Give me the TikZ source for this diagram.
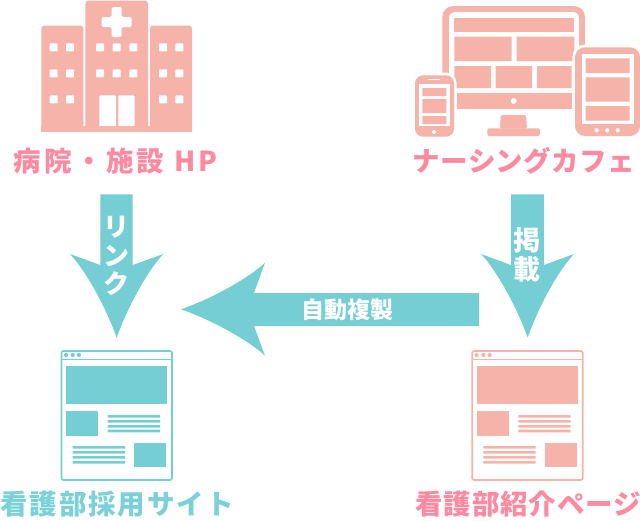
\documentclass[tikz,border=0pt]{standalone}
\usepackage{fontspec}
\newfontfamily\cjkwide{Noto Sans CJK JP}[LetterSpace=12.5]
\newfontfamily\cjkmid{Noto Sans CJK JP}[LetterSpace=1.5]
\newfontfamily\cjkintro{Noto Sans CJK JP}[LetterSpace=3]
\newfontfamily\cjktight{Noto Sans CJK JP}[LetterSpace=7]
\newfontfamily\cjkwhite{Noto Sans CJK JP}
\definecolor{pk}{HTML}{F5B3A9}
\definecolor{tl}{HTML}{74CED4}
\definecolor{lp}{HTML}{FD8AA0}
\definecolor{lt}{HTML}{7AD1D7}
\tikzset{
  px/.style={x=1pt,y=-1pt},
  lbl/.style={inner sep=0pt,anchor=center,text=#1},
  atxt/.style={font=\cjkwhite\bfseries\fontsize{#1}{#1}\selectfont,text=white,inner sep=0pt,anchor=center},
  halo/.style={preaction={draw=white,line width=5.4pt},fill=pk}
}
\newcommand{\pageicon}[1]{%
  \draw[draw=#1,line width=1.7pt,rounded corners=2pt,fill=white] (61.5,351) rectangle (172,480);
  \draw[draw=#1,line width=1.5pt] (61.5,359.3) -- (172,359.3);
  \fill[#1] (66,355) circle (2.1) (72.7,355) circle (2.1) (79,355) circle (2.1);
  \fill[#1] (66,366) rectangle (167.3,404);
  \fill[#1] (66,411.3) rectangle (98,436);
  \fill[#1] (107.7,415) rectangle (160,417.7) (107.7,420) rectangle (160,422.7) (107.7,425) rectangle (160,427.7) (107.7,429.7) rectangle (160,432.4);
  \fill[#1] (72.7,446) rectangle (125,448.7) (72.7,451) rectangle (125,453.7) (72.7,456) rectangle (125,458.7) (72.7,461) rectangle (125,463.7);
  \fill[#1] (134.3,442.7) rectangle (166.3,467.3);
}
\begin{document}
\begin{tikzpicture}[px]
\useasboundingbox (0,0) rectangle (640,520);
% hospital
\fill[pk,rounded corners=3pt] (41.3,140) -- (41.3,25.5) -- (83.3,25.5) -- (83.3,140) -- cycle;
\fill[pk,rounded corners=3pt] (150,140) -- (150,25.5) -- (192,25.5) -- (192,140) -- cycle;
\fill[pk,rounded corners=3pt] (85.3,140) -- (85.3,0.7) -- (148,0.7) -- (148,140) -- cycle;
\fill[pk] (41.3,126) rectangle (192,131.7);
\fill[white] (30,131.7) rectangle (200,142);
\fill[white,rounded corners=1.5pt] (111.7,7) -- (121.7,7) -- (121.7,17) -- (131.7,17) -- (131.7,27) -- (121.7,27) -- (121.7,37) -- (111.7,37) -- (111.7,27) -- (101.7,27) -- (101.7,17) -- (111.7,17) -- cycle;
\foreach \y in {43.4,69.4,95.4}{
  \foreach \x in {49.7,66,159,175.3}{\fill[white,rounded corners=0.8pt] (\x,\y) rectangle ++(8,8);}
}
\foreach \y in {43.4,69.4}{
  \foreach \x in {96,112.7,129.3}{\fill[white,rounded corners=0.8pt] (\x,\y) rectangle ++(8,8);}
}
\fill[white] (99.3,126) -- (99.3,97) [rounded corners=1pt] -- (99.3,95.4) -- (116,95.4) [sharp corners] -- (116,126) -- cycle;
\fill[white] (118.3,126) -- (118.3,97) [rounded corners=1pt] -- (118.3,95.4) -- (134.7,95.4) [sharp corners] -- (134.7,126) -- cycle;
% monitor
\fill[pk,rounded corners=11pt] (442.3,90) -- (442.3,6) -- (585,6) -- (585,90) -- cycle;
\fill[white,rounded corners=6pt] (449,90) -- (449,12) -- (579,12) -- (579,90) -- cycle;
\fill[pk] (454.3,17.7) rectangle (574.3,32);
\fill[pk] (454.3,36.7) rectangle (511.7,61) (516.7,36.7) rectangle (574.3,61);
\fill[pk] (454.3,66) rectangle (491,88) (495.7,66) rectangle (532,88) (537,66) rectangle (571.7,88);
\fill[pk] (456.7,92.7) rectangle (571.7,109);
\fill[white] (513.7,101) circle (2.9);
\fill[pk,rounded corners=1.5pt] (500,128.5) -- (500.8,115) -- (526,115) -- (527,128.5) -- cycle;
\fill[pk,rounded corners=2pt] (487.3,128.3) rectangle (540,136);
% tablet
\path[halo,rounded corners=10pt] (575,47.3) rectangle (640,136);
\fill[white] (581.7,54.3) rectangle (633.7,124.3);
\fill[pk] (585.7,58.3) rectangle (629.7,73) (585.7,77.3) rectangle (629.7,101.7) (585.7,106) rectangle (629.7,120.7);
\fill[white] (596.7,130.3) circle (2.1) (607.3,130.3) circle (2.1) (617.7,130.3) circle (2.1);
% phone
\path[halo,rounded corners=8pt] (415,75.3) rectangle (454,136.7);
\fill[white] (419,84) rectangle (449.7,126);
\fill[pk] (422.3,88) rectangle (446.3,96) (422.3,99) rectangle (446.3,113) (422.3,116) rectangle (446.3,124);
\draw[white,line width=1.2pt] (428.3,79.4) -- (440,79.4);
\fill[white] (434,132) circle (2);
% arrows
\fill[tl] (100.3,194.3) -- (132.7,194.3) -- (132.7,265) -- (163.3,254) .. controls (148.3,270) and (128.3,305) .. (116.7,337.7) .. controls (105,305) and (85,270) .. (70,254) -- (100.3,265) -- cycle;
\fill[tl] (511,194.3) -- (544,194.3) -- (544,265) -- (574,254) .. controls (559,270) and (539,305) .. (527.7,337.7) .. controls (516,305) and (496,270) .. (481,254) -- (511,265) -- cycle;
\fill[tl] (479,293) -- (479,326) -- (254,326) -- (265,355.7) .. controls (249,340.9) and (214,320.9) .. (181,309.3) .. controls (214,297.7) and (249,277.7) .. (265,262.7) -- (254,293) -- cycle;
\node[atxt=26] (ri) at (116.7,227) {リ};
\node[atxt=26] (n) at (116.7,256.5) {ン};
\node[atxt=26] (ku) at (116.7,284) {ク};
\node[atxt=27] (kei) at (527.3,240) {掲};
\node[atxt=27] (sai) at (527.3,269) {載};
\node[atxt=23] (copy) at (347.3,309.5) {自動複製};
% pages
\pageicon{tl}
\begin{scope}[xshift=410.7pt]\pageicon{pk}\end{scope}
% labels
\node[lbl=lp,font=\cjkwide\bfseries\fontsize{27.5}{27.5}\selectfont] (hp) at (115.5,161) {病院・施設 HP};
\node[lbl=lp,font=\cjkmid\bfseries\fontsize{27.5}{27.5}\selectfont] (cafe) at (524,161) {ナーシングカフェ};
\node[lbl=lt,font=\cjktight\bfseries\fontsize{27.5}{27.5}\selectfont] (site) at (117,504.5) {看護部採用サイト};
\node[lbl=lp,font=\cjkintro\bfseries\fontsize{27.5}{27.5}\selectfont] (intro) at (528,504.5) {看護部紹介ページ};
\end{tikzpicture}
\end{document}
